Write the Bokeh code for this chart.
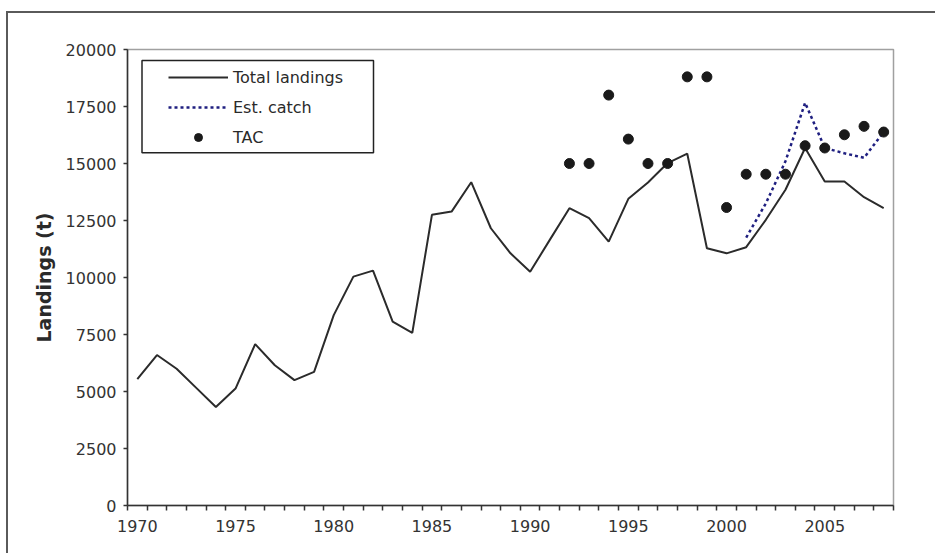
from bokeh.plotting import figure
from bokeh.layouts import column
from bokeh.models import FixedTicker, BoxAnnotation, Legend, LegendItem
from bokeh.embed import file_html
from bokeh.resources import INLINE

# ---------------- data ----------------
years = list(range(1970, 2009))
total_landings = [5540, 6600, 6000, 5160, 4320, 5130, 7080, 6150, 5500, 5860,
                  8350, 10040, 10300, 8060, 7570, 12750, 12890, 14180, 12160, 11060,
                  10250, 11650, 13040, 12600, 11570, 13450, 14170, 15020, 15430, 11280,
                  11060, 11330, 12530, 13850, 15680, 14210, 14210, 13520, 13040]

est_years = list(range(2001, 2009))
est_catch = [11750, 13250, 15100, 17660, 15680, 15450, 15250, 16380]

tac_years = list(range(1992, 2009))
tac = [15000, 15000, 18000, 16070, 15000, 15000, 18800, 18800, 13070,
       14530, 14530, 14530, 15780, 15680, 16260, 16630, 16380]

x_labels = [1970, 1975, 1980, 1985, 1990, 1995, 2000, 2005]
y_ticks = [0, 2500, 5000, 7500, 10000, 12500, 15000, 17500, 20000]

# ---------------- layout ----------------
W, H = 929, 542
FL, FT, FR, FB = 119, 36, 44, 50   # frame borders (canvas px)
FONT = "DejaVu Sans"
TXT = "#333333"

p = figure(width=W, height=H, output_backend="svg", toolbar_location=None,
           x_range=(years[0] - 0.5, years[-1] + 0.5), y_range=(0, 20000),
           min_border_left=FL, min_border_top=FT, min_border_right=FR,
           min_border_bottom=FB)
p.xgrid.visible = False
p.ygrid.visible = False
p.background_fill_color = "white"
p.border_fill_color = "white"
p.outline_line_color = "#a0a0a0"
p.outline_line_width = 1.5

# x axis: tick marks at category boundaries, labels at centers
p.xaxis.ticker = FixedTicker(ticks=x_labels,
                             minor_ticks=[y - 0.5 for y in years] + [years[-1] + 0.5])
p.xaxis.major_tick_line_color = None
p.xaxis.major_tick_out = 5
p.xaxis.major_tick_in = 0
p.xaxis.minor_tick_out = 5
p.xaxis.minor_tick_in = 0
p.xaxis.minor_tick_line_color = TXT
p.xaxis.minor_tick_line_width = 1.5
p.xaxis.major_label_standoff = 9

p.yaxis.ticker = FixedTicker(ticks=y_ticks, minor_ticks=[])
p.yaxis.major_tick_out = 4
p.yaxis.major_tick_in = 0
p.yaxis.major_tick_line_color = TXT
p.yaxis.major_tick_line_width = 1.5
p.yaxis.major_label_standoff = 7
p.yaxis.axis_label = "Landings (t)"
p.yaxis.axis_label_text_font = FONT
p.yaxis.axis_label_text_font_size = "19px"
p.yaxis.axis_label_text_font_style = "bold"
p.yaxis.axis_label_text_color = "#2a2a2a"
p.yaxis.axis_label_standoff = 8

for ax in (p.xaxis, p.yaxis):
    ax.axis_line_color = TXT
    ax.axis_line_width = 1.5
    ax.major_label_text_font = FONT
    ax.major_label_text_font_size = "16px"
    ax.major_label_text_color = TXT

# ---------------- glyphs ----------------
r_tot = p.line(years, total_landings, line_color="#2b2b2b", line_width=2)
r_est = p.line(est_years, est_catch, line_color="#1f1f80", line_width=2.5,
               line_dash="3 3")
r_tac = p.scatter(tac_years, tac, size=10, marker="circle",
                  fill_color="#1a1a1a", line_color="#1a1a1a")

# ---------------- legend ----------------
legend = Legend(items=[LegendItem(label="Total landings", renderers=[r_tot]),
                       LegendItem(label="Est. catch", renderers=[r_est]),
                       LegendItem(label="TAC", renderers=[r_tac])],
                location=(41, 358), padding=0, spacing=10,
                glyph_width=60, glyph_height=20, label_height=20,
                label_standoff=5, border_line_color=None,
                background_fill_alpha=0,
                label_text_font=FONT, label_text_font_size="16px",
                label_text_color="#2a2a2a")
p.add_layout(legend, "center")

legend_box = BoxAnnotation(left=FL + 14.5, right=FL + 246, top=FT + 11, bottom=FT + 103.3,
                           left_units="canvas", right_units="canvas",
                           top_units="canvas", bottom_units="canvas",
                           fill_color=None, line_color="#222222", line_alpha=1.0,
                           line_width=1.5)
p.add_layout(legend_box)

# outer chart-area frame: only its left and top edges fall inside the window
page = column(p, styles={"margin-left": "8px", "margin-top": "13px",
                         "box-shadow": "-2px -2px 0px 0px #5a5a5a"})

open("out.html", "w").write(file_html(page, INLINE))
